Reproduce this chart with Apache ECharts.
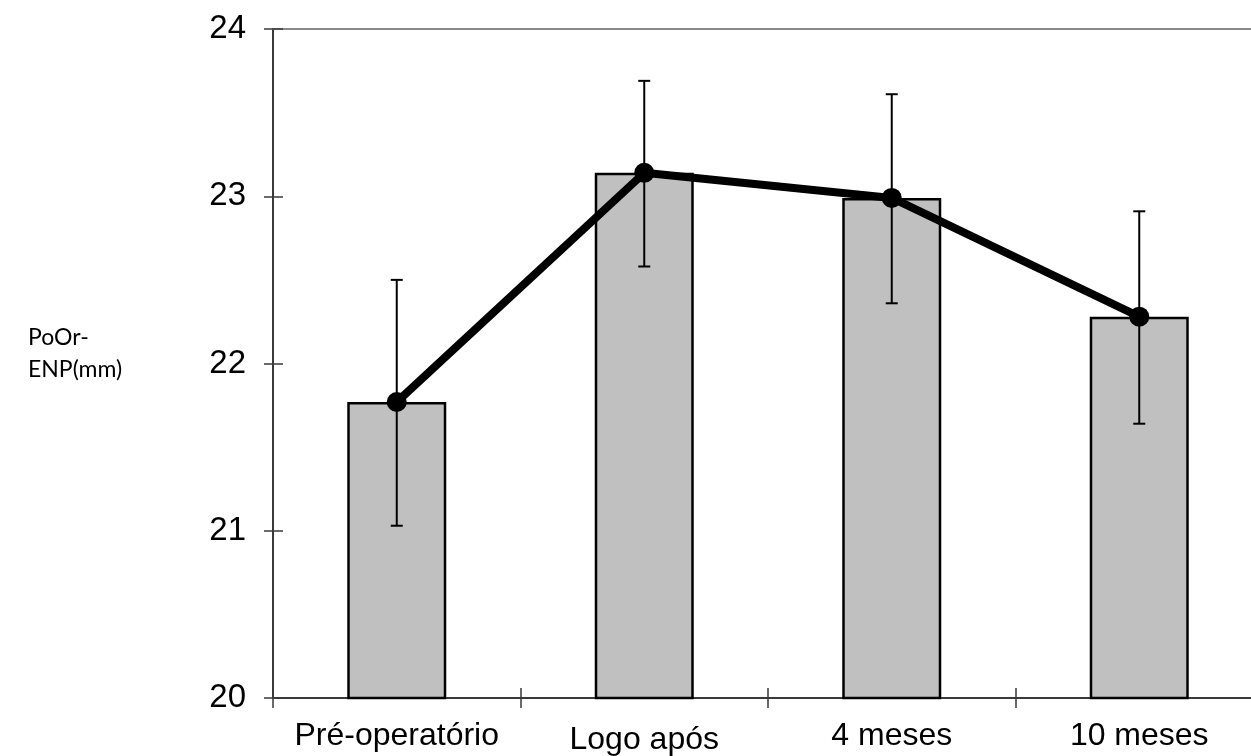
<!DOCTYPE html>
<html>
<head>
<meta charset="utf-8">
<title>PoOr-ENP</title>
<script src="https://cdn.jsdelivr.net/npm/echarts@6/dist/echarts.min.js"></script>
<style>
  html, body { margin: 0; padding: 0; background: #fff; }
  #chart { width: 1251px; height: 756px; }
</style>
</head>
<body>
<div id="chart"></div>
<script>
// Measurement periods
const categories = ['Pré-operatório', 'Logo após', '4 meses', '10 meses'];
// Mean PoOr-ENP (mm) per period
const means = [21.77, 23.14, 22.99, 22.28];
// Error bar limits (mean ± SD)
const lower = [21.03, 22.58, 22.36, 21.64];
const upper = [22.50, 23.69, 23.61, 22.91];
// Value axis range
const yMin = 20;
const yMax = 24;
const yStep = 1;

const errorData = categories.map((c, i) => [i, lower[i], upper[i]]);

const chart = echarts.init(document.getElementById('chart'), null, { renderer: 'canvas' });

const labelFont = 'Liberation Sans, Arial, sans-serif';
const axisDark = '#3a3a3a';

function renderError(params, api) {
  const x = api.value(0);
  const lo = api.coord([x, api.value(1)]);
  const hi = api.coord([x, api.value(2)]);
  const cap = 6;
  const style = { stroke: '#000', lineWidth: 2 };
  return {
    type: 'group',
    children: [
      { type: 'line', shape: { x1: lo[0], y1: lo[1], x2: hi[0], y2: hi[1] }, style },
      { type: 'line', shape: { x1: hi[0] - cap, y1: hi[1], x2: hi[0] + cap, y2: hi[1] }, style },
      { type: 'line', shape: { x1: lo[0] - cap, y1: lo[1], x2: lo[0] + cap, y2: lo[1] }, style }
    ]
  };
}

chart.setOption({
  animation: false,
  backgroundColor: '#fff',
  title: {
    text: 'PoOr-\nENP(mm)',
    left: 28,
    top: 322,
    padding: 0,
    textStyle: {
      fontFamily: 'Lato, Open Sans, sans-serif',
      fontSize: 23,
      fontWeight: 'normal',
      lineHeight: 32,
      color: '#000'
    }
  },
  grid: {
    left: 273, top: 29, width: 990, height: 669,
    containLabel: false,
    outerBoundsMode: 'none'
  },
  xAxis: [
    {
      type: 'category',
      data: categories,
      position: 'bottom',
      axisLine: { show: true, lineStyle: { color: axisDark, width: 2 } },
      axisTick: { show: true, length: 10, lineStyle: { color: axisDark, width: 1.5 } },
      axisLabel: {
        interval: 0,
        hideOverlap: false,
        color: '#000',
        fontFamily: labelFont,
        fontSize: 32,
        margin: 22,
        formatter: v => (v === 'Logo após' ? '{low|' + v + '}' : v),
        rich: {
          low: { fontFamily: labelFont, fontSize: 32, color: '#000', padding: [4, 0, 0, 0] }
        }
      },
      splitLine: { show: false }
    },
    {
      type: 'category',
      data: categories,
      position: 'bottom',
      axisLine: { show: false },
      axisTick: { show: true, inside: true, length: 10, lineStyle: { color: axisDark, width: 1.5 } },
      axisLabel: { show: false },
      splitLine: { show: false }
    },
    {
      type: 'category',
      data: categories,
      position: 'top',
      axisLine: { show: true, lineStyle: { color: '#8a8a8a', width: 2 } },
      axisTick: { show: false },
      axisLabel: { show: false },
      splitLine: { show: false }
    }
  ],
  yAxis: [
    {
      type: 'value',
      position: 'left',
      min: yMin,
      max: yMax,
      interval: yStep,
      axisLine: { show: true, lineStyle: { color: axisDark, width: 2 } },
      axisTick: { show: true, length: 9, lineStyle: { color: axisDark, width: 1.5 } },
      axisLabel: { color: '#000', fontFamily: labelFont, fontSize: 33, margin: 27 },
      splitLine: { show: false }
    },
    {
      type: 'value',
      position: 'left',
      min: yMin,
      max: yMax,
      interval: yStep,
      axisLine: { show: false },
      axisTick: { show: true, inside: true, length: 10, lineStyle: { color: axisDark, width: 1.5 } },
      axisLabel: { show: false },
      splitLine: { show: false }
    }
  ],
  series: [
    {
      type: 'bar',
      data: means,
      barWidth: '40%',
      itemStyle: { color: '#c0c0c0', borderColor: '#000', borderWidth: 2.5 },
      z: 2
    },
    {
      type: 'custom',
      data: errorData,
      renderItem: renderError,
      encode: { x: 0, y: [1, 2] },
      z: 3
    },
    {
      type: 'line',
      data: means,
      symbol: 'circle',
      symbolSize: 20,
      lineStyle: { color: '#000', width: 8 },
      itemStyle: { color: '#000' },
      z: 4
    }
  ]
});
</script>
</body>
</html>
